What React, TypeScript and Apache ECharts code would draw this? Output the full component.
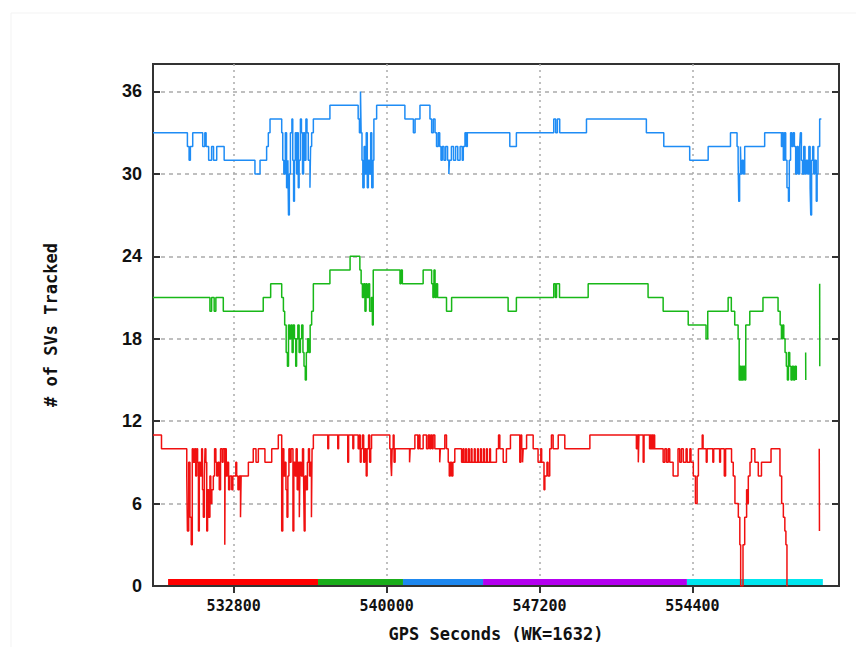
import React, { useEffect, useRef } from "react";
import * as echarts from "echarts";

// ---- axis ticks / ranges ----
const xTickValues = [532800, 540000, 547200, 554400];
const xMin = 529000;
const xMax = 561300;
const yMin = 0;
const yMax = 38;
const yInterval = 6;

const xTitle = "GPS Seconds (WK=1632)";
const yTitle = "# of SVs Tracked";

// ---- bottom coloured bar: segment boundaries (GPS seconds) ----
const segmentBounds = [529710, 536770, 540770, 544540, 554140, 560540];
const segmentLevel = 0.3;

// ---- series data: [GPS seconds, # SVs] (step, value held until next point) ----
const blueData: [number, number | null][] = [
  [529000,33],[530620,32],[530700,31],[530760,32],[530870,33],[531340,32],[531440,33],[531500,32],[531620,31],[531760,32],[531850,31],[532000,32],[532350,31],[533800,30],[534040,31],[534350,32],[534430,33],[534510,34],
  [535060,33],[535110,31],[535160,30],[535230,33],[535290,29],[535350,31],[535380,27],[535420,30],[535470,33],[535540,34],[535580,31],[535620,28],[535660,31],[535700,33],[535760,30],[535800,33],[535840,29],[535880,31],[535940,34],[535990,33],[536040,30],[536090,33],[536140,31],[536200,34],[536250,33],[536310,31],[536390,29],[536420,32],[536470,33],
  [536550,34],[537330,35],[538660,34],[538720,33],[538770,36],[538800,33],[538840,31],[538880,29],[538940,32],[538990,30],[539040,33],[539090,29],[539140,31],[539200,30],[539250,33],[539300,29],[539360,31],[539400,34],[539530,35],[540860,34],[541260,33],[541340,34],[541570,35],[542040,34],[542120,33],[542200,34],[542280,33],[542350,32],[542430,33],[542500,32],[542560,31],[542620,32],[542700,31],[542780,32],[542870,31],[542930,30],[542960,31],[543050,32],[543150,31],[543250,32],[543350,31],[543460,32],[543560,31],[543610,32],[543690,33],[543760,32],[543800,33],
  [545800,32],[546110,33],[547870,34],[547960,33],[548040,34],[548150,33],[549410,34],[552230,33],[553050,32],[554270,31],[555140,32],[556190,33],[556500,32],[556550,31],[556580,28],[556620,30],[556660,32],[556690,30],[556740,31],[556800,30],[556860,32],[557800,33],
  [558590,32],[558630,33],[558680,31],[558730,33],[558790,31],[558850,29],[558920,28],[558960,31],[559020,33],[559080,32],[559140,33],[559200,32],[559260,30],[559320,32],[559380,30],[559450,32],[559480,33],[559530,31],[559580,30],[559640,32],[559700,30],[559760,31],[559820,30],[559880,32],[559940,29],[559970,27],[560010,31],[560060,32],[560110,30],[560160,31],[560230,28],[560270,30],[560310,32],[560390,34],[560470,34]
];

const greenData: [number, number | null][] = [
  [529000,21],[531680,20],[531760,21],[531880,20],[531960,21],[532310,20],[534190,21],[534540,22],[535060,21],[535140,20],[535200,19],[535270,17],[535330,16],[535380,19],[535430,18],[535490,19],[535550,17],[535600,19],[535660,18],[535720,16],[535760,18],[535820,19],[535880,17],[535940,18],[536000,19],[536060,17],[536110,16],[536170,15],[536220,17],[536280,18],[536340,17],[536400,19],[536470,20],
  [536550,22],[537330,23],[538280,24],[538740,23],[538800,22],[538860,21],[538920,22],[538980,20],[539030,22],[539080,21],[539150,22],[539200,20],[539280,21],[539330,19],[539370,23],[540630,22],[540680,23],[540740,22],[541720,23],[542120,22],[542180,21],[542230,23],[542280,21],[542340,22],[542400,21],[542820,20],[543060,21],
  [545720,20],[546110,21],[547870,22],[547950,21],[548000,22],[548140,21],[549490,22],[552310,21],[553020,20],[554200,19],[555040,18],[555120,20],[556080,21],[556230,20],[556390,19],[556550,18],[556600,15],[556640,16],[556680,15],[556720,16],[556760,15],[556800,16],[556860,15],[556910,19],[557100,20],[557720,21],
  [558430,20],[558530,19],[558590,18],[558650,19],[558700,18],[558760,17],[558820,16],[558870,15],[558920,17],[558980,16],[559040,15],[559100,16],[559160,15],[559220,16],[559290,15],[559300,null],
  [559730,17],[559735,15],[559745,null],[560390,22],[560395,16]
];

const redData: [number, number | null][] = [
  [529000,11],[529400,10],[530590,8],[530620,4],[530680,9],[530740,5],[530800,3],[530850,10],[530900,9],[530960,10],[531010,8],[531060,10],[531100,9],[531140,4],[531180,9],[531230,8],[531290,10],[531330,7],[531370,5],[531420,8],[531450,10],[531490,9],[531530,4],[531570,7],[531620,5],[531680,8],[531720,6],[531770,7],[531840,8],[531900,10],[531960,9],[532000,8],[532060,9],[532120,7],[532180,10],[532260,9],[532300,10],[532380,3],[532400,10],[532450,8],[532500,9],[532560,7],[532620,8],[532710,7],[532760,8],[532900,9],[532940,8],[533000,7],[533060,8],[533120,5],[533150,8],[533490,9],[533720,10],[533850,9],[533960,10],[534270,9],[534590,10],[534900,11],
  [535060,4],[535110,10],[535160,8],[535210,9],[535260,7],[535310,5],[535350,8],[535400,10],[535450,9],[535500,10],[535590,4],[535630,9],[535690,8],[535740,10],[535790,7],[535850,9],[535890,5],[535920,9],[535980,8],[536040,10],[536090,8],[536120,4],[536160,8],[536210,7],[536270,9],[536320,10],[536370,8],[536420,9],[536460,5],[536490,10],
  [536550,11],[537230,10],[537270,11],[537700,10],[537740,11],[538170,9],[538210,11],[538410,10],[538450,11],[538660,10],[538710,11],[538760,9],[538800,10],[538860,11],[538920,9],[538970,10],[539040,8],[539080,10],[539150,11],[539200,9],[539250,10],[539290,11],[540150,10],[540200,9],[540230,8],[540260,10],[540310,11],[540350,9],[540400,10],[541080,9],[541110,10],[541330,11],[541470,10],[541520,11],[541570,10],[541720,11],[541880,10],[541960,11],[542030,10],[542080,11],[542140,10],[542190,11],[542270,10],[542500,9],[542530,10],[542740,11],[542820,10],[542900,9],[542950,8],[543000,9],[543060,8],[543120,9],[543210,10],
  [543530,9],[543600,10],[543640,9],[543720,10],[543760,9],[543850,10],[543890,9],[543980,10],[544020,9],[544130,10],[544170,9],[544280,10],[544320,9],[544420,10],[544460,9],[544560,10],[544600,9],[544700,10],[544740,9],[544850,10],[544890,9],[545170,10],[545270,11],[545330,10],[545490,9],[545640,10],[545830,11],[546270,9],[546320,11],[546360,10],[546400,9],[546430,10],[546590,11],[546900,10],[547130,9],[547260,10],[547300,9],[547410,7],[547450,8],[547550,9],[547600,8],[547680,10],[547760,11],[547840,10],[548080,11],[548390,10],[549570,11],
  [551760,10],[551800,11],[551850,9],[551880,11],[552080,9],[552120,11],[552380,10],[552420,11],[552460,10],[552500,11],[552540,10],[552580,11],[552620,10],[553020,9],[553100,10],[553180,9],[553260,10],[553330,9],[553490,8],[553720,10],[553800,9],[553880,10],[553970,9],[554100,10],[554150,9],[554280,10],[554330,9],[554440,8],[554540,6],[554620,8],[554680,10],[554860,11],[554900,10],[555050,9],[555090,10],[555360,9],[555400,10],[555680,9],[555720,10],[555900,8],[555960,10],[556240,9],[556320,8],[556400,6],[556560,5],[556630,3],[556670,0],[556780,3],[556860,5],[556950,7],[556990,6],[557030,8],[557110,9],[557180,10],[557340,9],[557500,8],[557650,9],[558100,10],[558520,8],[558600,6],[558680,5],[558750,4],[558800,3],[558850,0],[558880,0],[558890,null],
  [560370,10],[560375,7],[560380,4],[560390,4]
];

const seriesColors = { blue: "#1e8cf5", green: "#18b818", red: "#f01010" };
const segmentColors = ["#ff0000", "#1aad1a", "#1e88f0", "#b400f0", "#00e6ef"];

export default function App() {
  const ref = useRef<HTMLDivElement>(null);

  useEffect(() => {
    if (!ref.current) return;
    const chart = echarts.init(ref.current, undefined, { renderer: "svg" });

    const barSeries = segmentColors.map((c, i) => ({
      type: "line",
      data: [
        [segmentBounds[i], segmentLevel],
        [segmentBounds[i + 1], segmentLevel],
      ],
      showSymbol: false,
      lineStyle: { color: c, width: 6, cap: "butt" },
      itemStyle: { color: c },
      z: 2,
      silent: true,
    }));

    const stepSeries = (data: any, color: string) => ({
      type: "line",
      step: "end",
      data,
      showSymbol: false,
      connectNulls: false,
      lineStyle: { color, width: 1.5 },
      itemStyle: { color },
      z: 3,
      silent: true,
    });

    const xLabelFont = {
      fontFamily: "DejaVu Sans Mono",
      fontWeight: "bold" as const,
      fontSize: 15,
      color: "#111",
    };

    chart.setOption({
      animation: false,
      backgroundColor: "#ffffff",
      grid: {
        left: 153,
        right: 17,
        top: 64,
        bottom: 57,
        show: true,
        borderColor: "#333",
        borderWidth: 2,
        backgroundColor: "transparent",
      },
      xAxis: [
        {
          type: "value",
          min: xMin,
          max: xMax,
          position: "bottom",
          name: xTitle,
          nameLocation: "middle",
          nameGap: 39,
          nameTextStyle: { ...xLabelFont, fontSize: 17 },
          axisLine: { show: false },
          axisTick: {
            show: true,
            inside: true,
            length: 7,
            customValues: xTickValues,
            lineStyle: { color: "#333", width: 2 },
          },
          axisLabel: {
            customValues: xTickValues,
            margin: 12,
            formatter: (v: number) => String(v),
            ...xLabelFont,
          },
          splitLine: {
            show: true,
            lineStyle: { color: "#aaa", type: [2, 4], width: 1.5 },
          },
        },
        {
          type: "value",
          min: xMin,
          max: xMax,
          position: "top",
          axisLine: { show: false },
          axisTick: {
            show: true,
            inside: true,
            length: 7,
            customValues: xTickValues,
            lineStyle: { color: "#333", width: 2 },
          },
          axisLabel: { show: false, customValues: xTickValues },
          splitLine: { show: false },
        },
      ],
      yAxis: [
        {
          type: "value",
          min: yMin,
          max: yMax,
          interval: yInterval,
          name: yTitle,
          nameLocation: "middle",
          nameRotate: 90,
          nameGap: 94,
          nameTextStyle: {
            fontFamily: "DejaVu Sans Mono",
            fontWeight: "bold",
            fontSize: 17,
            color: "#111",
          },
          axisLine: { show: false },
          axisTick: {
            show: true,
            inside: true,
            length: 7,
            lineStyle: { color: "#333", width: 2 },
          },
          axisLabel: {
            margin: 11,
            showMaxLabel: false,
            fontFamily: "Liberation Sans",
            fontWeight: "bold",
            fontSize: 18,
            color: "#111",
          },
          splitLine: {
            show: true,
            showMinLine: false,
            showMaxLine: false,
            lineStyle: { color: "#aaa", type: [4, 4], width: 1.5 },
          },
        },
        {
          type: "value",
          min: yMin,
          max: yMax,
          interval: yInterval,
          position: "right",
          axisLine: { show: false },
          axisTick: {
            show: true,
            inside: true,
            length: 7,
            lineStyle: { color: "#333", width: 2 },
          },
          axisLabel: { show: false },
          splitLine: { show: false },
        },
      ],
      graphic: [
        {
          type: "rect",
          shape: { x: 11, y: 13, width: 900, height: 700 },
          style: { fill: "none", stroke: "#f3f3f3", lineWidth: 1 },
          silent: true,
          z: 0,
        },
      ],
      series: [
        ...barSeries,
        stepSeries(blueData, seriesColors.blue),
        stepSeries(greenData, seriesColors.green),
        stepSeries(redData, seriesColors.red),
      ],
    });

    return () => chart.dispose();
  }, []);

  return (
    <div
      ref={ref}
      style={{
        position: "absolute",
        left: 0,
        top: 0,
        width: 856,
        height: 647,
        background: "#fff",
      }}
    />
  );
}
